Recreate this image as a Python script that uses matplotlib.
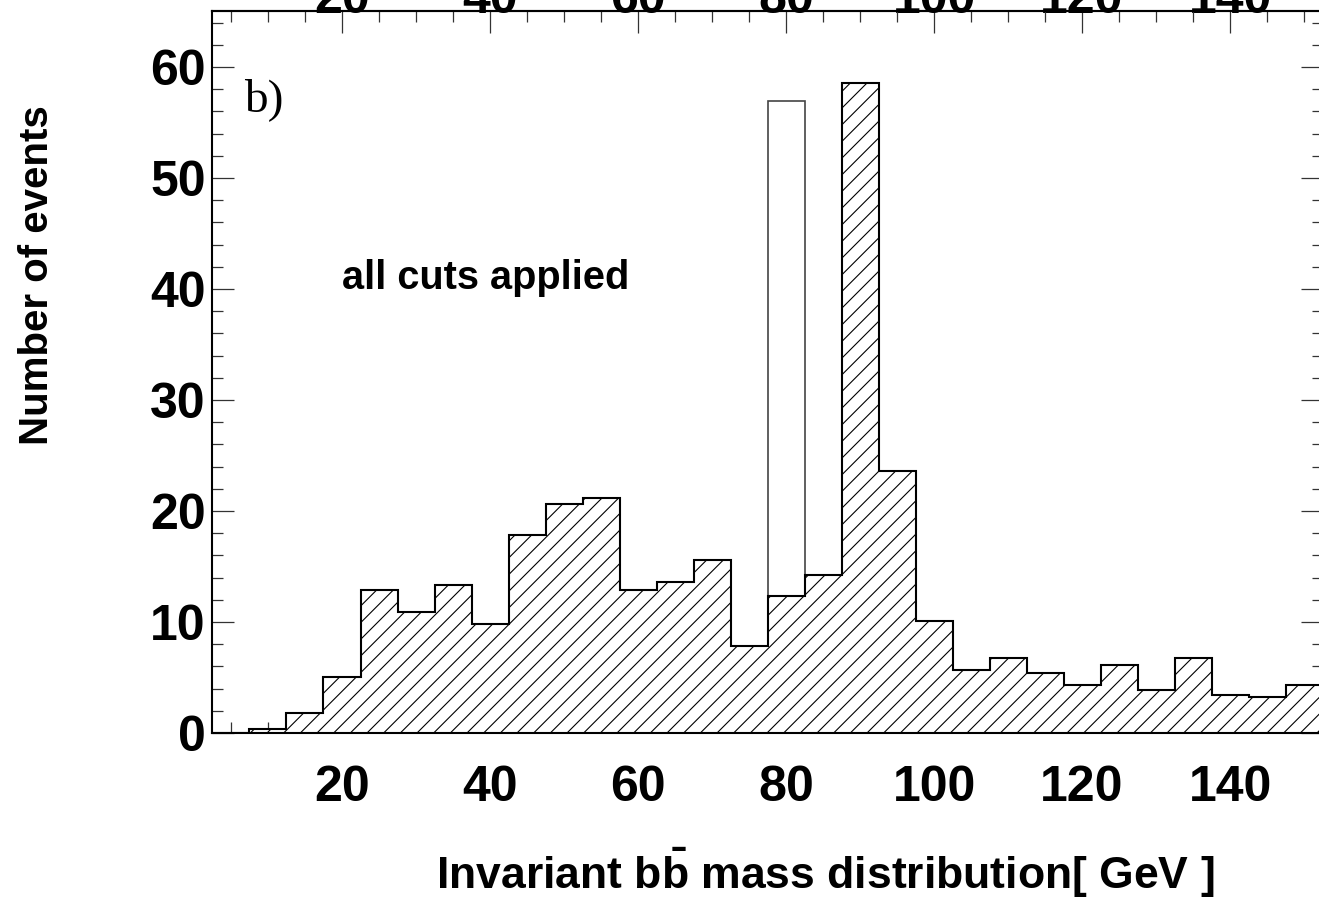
import numpy as np
import matplotlib
matplotlib.use("Agg")
import matplotlib.pyplot as plt
from matplotlib.ticker import MultipleLocator, FixedLocator

plt.rcParams['font.family'] = 'Liberation Sans'
plt.rcParams['font.weight'] = 'bold'
plt.rcParams['mathtext.fontset'] = 'custom'
plt.rcParams['mathtext.rm'] = 'Liberation Sans:bold'
plt.rcParams['mathtext.bf'] = 'Liberation Sans:bold'
plt.rcParams['hatch.linewidth'] = 0.8

# bb invariant mass, 5 GeV bins from 2.5 to 152.5 GeV
bin_edges = np.arange(2.5, 153.0, 5.0)
events = [0.0, 0.4, 1.8, 5.0, 12.9, 10.9, 13.3, 9.8, 17.8, 20.6,
          21.2, 12.9, 13.6, 15.6, 7.8, 12.3, 14.2, 58.6, 23.6, 10.1,
          5.7, 6.8, 5.4, 4.3, 6.1, 3.9, 6.8, 3.4, 3.2, 4.3]
# open bar on top (W peak bin)
peak_center = 80
peak_height = 56.9
xtick_vals = [20, 40, 60, 80, 100, 120, 140]

fig = plt.figure(figsize=(13.19, 9.11), dpi=100)
ax = fig.add_axes([0.1611, 0.1954, 0.8416, 0.792])

ax.bar(peak_center, peak_height, width=5, facecolor='white',
       edgecolor='#444444', linewidth=1.2, zorder=1)
ax.stairs(events, bin_edges, fill=True, facecolor='white',
          edgecolor='black', hatch='//', linewidth=0, zorder=2)
ax.stairs(events, bin_edges, fill=False, color='black',
          linewidth=1.5, baseline=0, zorder=3)

ax.set_xlim(2.5, 152.5)
ax.set_ylim(0, 65)
ax.xaxis.set_major_locator(FixedLocator(xtick_vals))
ax.xaxis.set_minor_locator(MultipleLocator(5))
ax.yaxis.set_major_locator(MultipleLocator(10))
ax.yaxis.set_minor_locator(MultipleLocator(2))

ax.tick_params(which='both', direction='in', right=True, top=False,
               color='#333333')
ax.tick_params(which='major', length=16, width=0.9, labelsize=36)
ax.tick_params(which='minor', length=8, width=0.9)
ax.tick_params(axis='x', which='major', pad=23)
ax.tick_params(axis='y', which='major', pad=5)
for sp in ax.spines.values():
    sp.set_linewidth(1.5)

# mirrored labels above the frame (cut by the page edge)
sec = ax.secondary_xaxis('top')
sec.xaxis.set_major_locator(FixedLocator(xtick_vals))
sec.xaxis.set_minor_locator(MultipleLocator(5))
sec.tick_params(which='both', direction='in', color='#333333')
sec.tick_params(which='major', length=16, width=0.9, labelsize=36, pad=-8)
sec.tick_params(which='minor', length=8, width=0.9)
sec.spines['top'].set_linewidth(1.5)

ax.text(6.8, 56, 'b)', family='Liberation Serif', fontweight='normal',
        fontsize=34, ha='left', va='baseline')
ax.text(20, 40, 'all cuts applied', fontsize=28.6, ha='left', va='baseline')

fig.text(0.028, 0.698, 'Number of events', rotation=90, fontsize=29,
         ha='center', va='center')
fig.text(0.626, 0.042, r'Invariant b$\bar{\mathrm{b}}$ mass distribution[ GeV ]',
         fontsize=32, ha='center', va='center')

fig.savefig('out.png', dpi=100)
